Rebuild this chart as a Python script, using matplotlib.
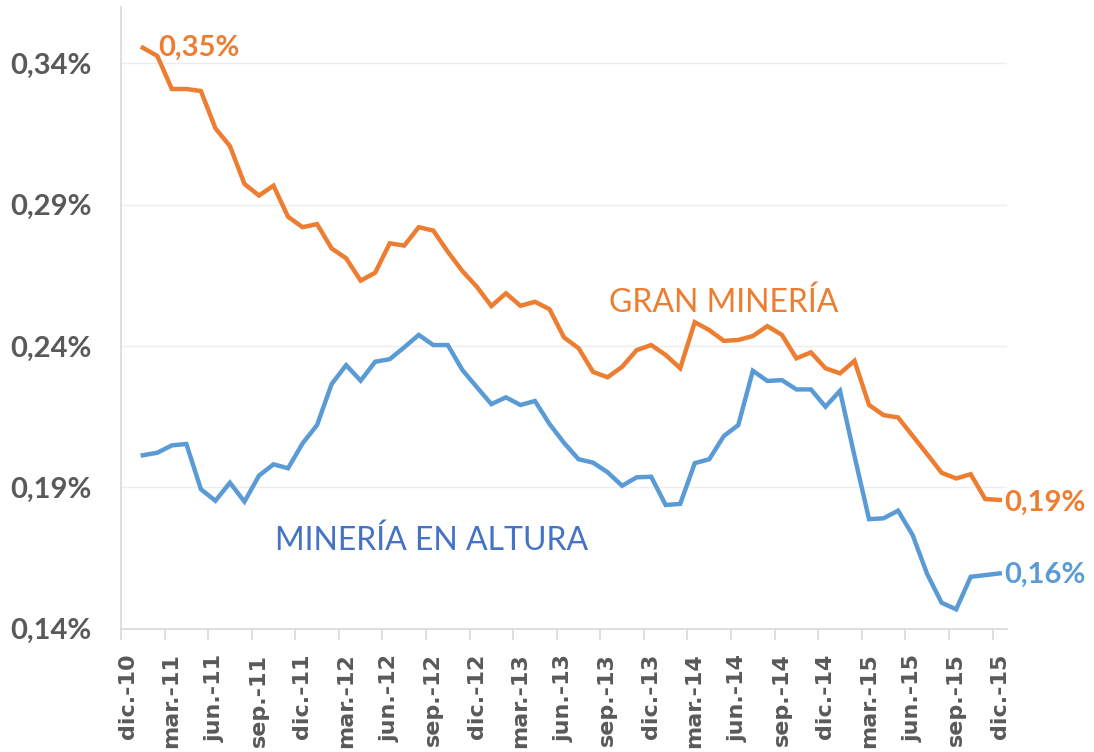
import numpy as np
import matplotlib
matplotlib.use("Agg")
import matplotlib.pyplot as plt
import matplotlib.transforms as mtransforms
from matplotlib.ticker import FuncFormatter

### Data (% , monthly, ene-11 .. dic-15)
gran_mineria = [0.3455, 0.3426, 0.3309, 0.3309, 0.3302, 0.3170, 0.3107, 0.2973, 0.2932, 0.2967,
                0.2857, 0.2820, 0.2831, 0.2745, 0.2710, 0.2631, 0.2659, 0.2763, 0.2755, 0.2820,
                0.2808, 0.2733, 0.2665, 0.2609, 0.2541, 0.2586, 0.2542, 0.2556, 0.2530, 0.2430,
                0.2392, 0.2308, 0.2289, 0.2326, 0.2385, 0.2403, 0.2368, 0.2321, 0.2484, 0.2456,
                0.2418, 0.2421, 0.2435, 0.2470, 0.2439, 0.2356, 0.2377, 0.2321, 0.2303, 0.2347,
                0.2191, 0.2155, 0.2147, 0.2082, 0.2017, 0.1951, 0.1931, 0.1946, 0.1858, 0.1855]

mineria_altura = [0.2013, 0.2022, 0.2048, 0.2053, 0.1893, 0.1852, 0.1916, 0.1849, 0.1941, 0.1981,
                  0.1967, 0.2055, 0.2120, 0.2265, 0.2332, 0.2277, 0.2344, 0.2353, 0.2395, 0.2439,
                  0.2403, 0.2403, 0.2315, 0.2254, 0.2194, 0.2218, 0.2191, 0.2205, 0.2124, 0.2057,
                  0.1999, 0.1987, 0.1953, 0.1905, 0.1935, 0.1937, 0.1837, 0.1841, 0.1985, 0.1999,
                  0.2081, 0.2120, 0.2312, 0.2276, 0.2279, 0.2246, 0.2246, 0.2185, 0.2241, 0.2010,
                  0.1787, 0.1790, 0.1817, 0.1731, 0.1593, 0.1491, 0.1468, 0.1583, 0.1589, 0.1595]

tick_months = ['dic.', 'mar.', 'jun.', 'sep.']
tick_labels = [tick_months[k % 4] + '-' + str(10 + (k + 3) // 4) for k in range(21)]
y_ticks = [0.14, 0.19, 0.24, 0.29, 0.34]

ORANGE = '#ED7D31'
BLUE = '#5B9BD5'
DARKBLUE = '#4472C4'
GRAY = '#595959'

plt.rcParams['font.family'] = ['Lato', 'DejaVu Sans']

def pct(v):
    return ('%.2f%%' % v).replace('.', ',')

fig = plt.figure(figsize=(10.94, 7.52), dpi=100)
ax = fig.add_axes([0.1106, 0.1642, 0.8099, 0.8268])

x = np.arange(len(gran_mineria)) + 1.5
ax.plot(x, gran_mineria, color=ORANGE, lw=3.2, solid_joinstyle='miter')
ax.plot(x, mineria_altura, color=BLUE, lw=3.2, solid_joinstyle='miter')

ax.set_xlim(0, 61)
ax.set_ylim(0.14, 0.36)

ax.set_yticks(y_ticks)
ax.yaxis.set_major_formatter(FuncFormatter(lambda v, p: pct(v)))
ax.set_xticks(np.arange(0, 61, 3))
ax.set_xticklabels(tick_labels, rotation=90, va='top', ha='center',
                   family='DejaVu Sans', fontsize=16, fontweight='bold')

ax.grid(axis='y', color='#EDEDED', lw=1)
ax.set_axisbelow(True)
for s in ['top', 'right']:
    ax.spines[s].set_visible(False)
for s in ['left', 'bottom']:
    ax.spines[s].set_color('#D9D9D9')
    ax.spines[s].set_linewidth(1.2)

ax.tick_params(axis='y', length=0, pad=21, labelsize=21, labelcolor=GRAY)
ax.tick_params(axis='x', length=8, width=1.2, color='#D9D9D9', pad=10, labelcolor=GRAY)
for lbl in ax.get_yticklabels():
    lbl.set_fontweight('bold')
offset = mtransforms.ScaledTranslation(7 / 100, 0, fig.dpi_scale_trans)
for lbl in ax.get_xticklabels():
    lbl.set_transform(lbl.get_transform() + offset)

# end labels
ax.annotate(pct(gran_mineria[0]), (x[0], gran_mineria[0]),
            xytext=(11, 0), textcoords='offset points', va='center', ha='left',
            color=ORANGE, fontsize=21, fontweight='bold')
ax.annotate(pct(gran_mineria[-1]), (x[-1], gran_mineria[-1]),
            xytext=(3, -2), textcoords='offset points', va='center', ha='left',
            color=ORANGE, fontsize=21, fontweight='bold')
ax.annotate(pct(mineria_altura[-1]), (x[-1], mineria_altura[-1]),
            xytext=(3, -1), textcoords='offset points', va='center', ha='left',
            color=BLUE, fontsize=21, fontweight='bold')

ax.text(41.46, 0.2521, 'GRAN MINERÍA', color=ORANGE, fontsize=23, ha='center', va='baseline')
ax.text(21.38, 0.1678, 'MINERÍA EN ALTURA', color=DARKBLUE, fontsize=23, ha='center', va='baseline')

fig.savefig('out.png', dpi=100)
